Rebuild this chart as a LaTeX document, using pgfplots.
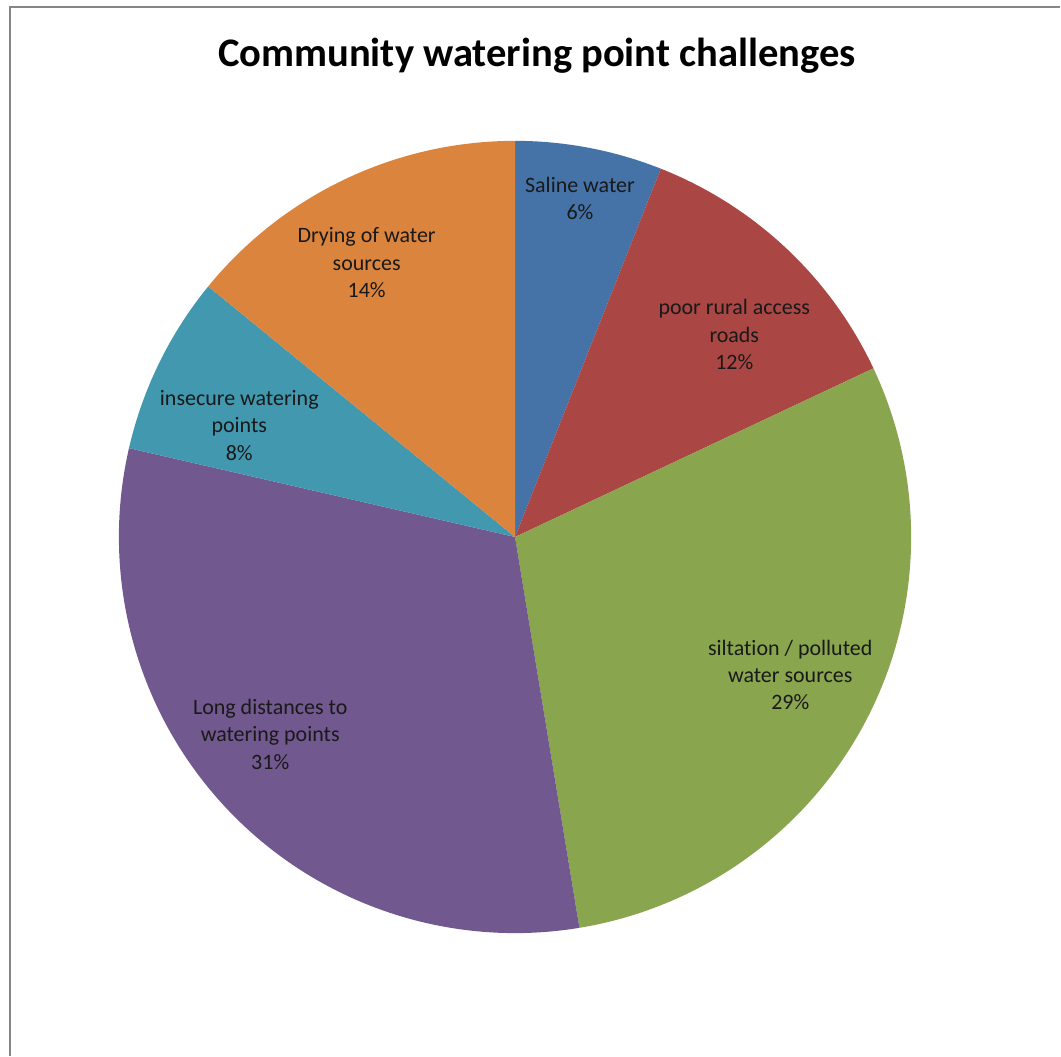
\documentclass[border=0pt]{standalone}
\usepackage{pgfplots}
\pgfplotsset{compat=1.18}
\usepackage{fontspec}
\setmainfont{Carlito}[Ligatures=NoCommon]
\definecolor{cSaline}{HTML}{4572A7}
\definecolor{cRoads}{HTML}{AA4643}
\definecolor{cSilt}{HTML}{89A54E}
\definecolor{cLong}{HTML}{71588F}
\definecolor{cInsecure}{HTML}{4198AF}
\definecolor{cDrying}{HTML}{DB843D}
\definecolor{cFrame}{HTML}{868686}
\begin{document}
\begin{tikzpicture}
\begin{axis}[scale only axis, width=530.5pt, height=528.5pt,
  xmin=0, xmax=1061, ymin=0, ymax=1057, hide axis, clip=false]
\addplot[draw=none] coordinates {(0,0) (1061,1057)};
\pgfplotsextra{
  \xdef\curang{90}
  \foreach \v/\c in {6.0/cSaline, 12.0/cRoads, 29.4/cSilt, 31.2/cLong, 7.3/cInsecure, 14.1/cDrying}{
    \pgfmathsetmacro\endang{\curang-3.6*\v}
    \fill[\c] (axis cs:515.5,519.5) -- ++(\curang:198.25pt) arc[start angle=\curang, end angle=\endang, radius=198.25pt] -- cycle;
    \xdef\curang{\endang}
  }
}
\draw[cFrame, line width=1pt] (axis cs:10,0) -- (axis cs:10,1050) -- (axis cs:1061,1050);
\node[anchor=base, font=\fontsize{20.3}{24}\selectfont\bfseries] at (axis cs:537.5,990) {Community watering point challenges};
\begin{scope}[every node/.style={align=center, font=\fontsize{11}{13.65}\selectfont, text=black!90}]
\node at (axis cs:580.5,858.6) {Saline water\\6\%};
\node at (axis cs:735,722) {poor rural access\\roads\\12\%};
\node at (axis cs:791,381.3) {siltation / polluted\\water sources\\29\%};
\node at (axis cs:270.5,322) {Long distances to\\watering points\\31\%};
\node at (axis cs:239.5,631.3) {insecure watering\\points\\8\%};
\node at (axis cs:367,794) {Drying of water\\sources\\14\%};
\end{scope}
\end{axis}
\end{tikzpicture}
\end{document}
